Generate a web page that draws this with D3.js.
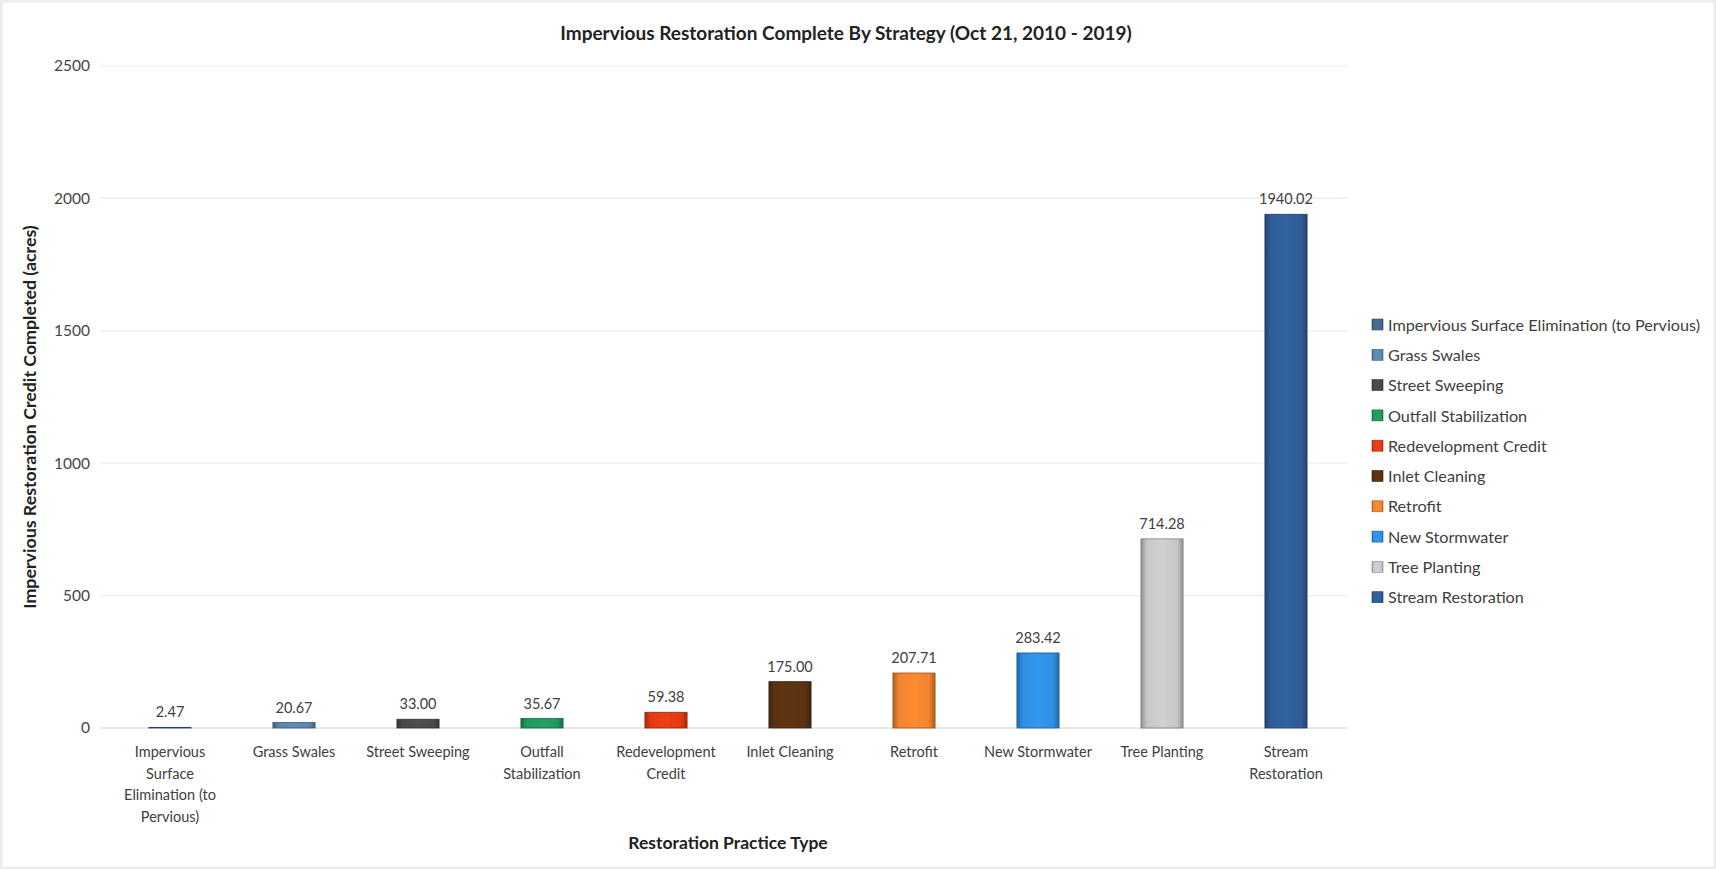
<!DOCTYPE html>
<html lang="en">
<head>
<meta charset="UTF-8">
<title>Impervious Restoration Complete By Strategy</title>
<style>
  html, body { margin: 0; padding: 0; background: #fff; }
  svg { display: block; font-family: Lato, "Open Sans", sans-serif; }
</style>
</head>
<body>
<svg id="chart" width="1716" height="869"></svg>
<script src="https://d3js.org/d3.v7.min.js"></script>
<script>
// data
var categories = ["Impervious Surface Elimination (to Pervious)", "Grass Swales", "Street Sweeping",
  "Outfall Stabilization", "Redevelopment Credit", "Inlet Cleaning", "Retrofit",
  "New Stormwater", "Tree Planting", "Stream Restoration"];
var values = [2.47, 20.67, 33.00, 35.67, 59.38, 175.00, 207.71, 283.42, 714.28, 1940.02];
var axisLabels = [["Impervious", "Surface", "Elimination (to", "Pervious)"], ["Grass Swales"], ["Street Sweeping"],
  ["Outfall", "Stabilization"], ["Redevelopment", "Credit"], ["Inlet Cleaning"], ["Retrofit"],
  ["New Stormwater"], ["Tree Planting"], ["Stream", "Restoration"]];
var colors = ["#46698a", "#5b86ad", "#4a4a4a", "#1e9a5c", "#e23a12", "#5b3212", "#f0842f",
  "#2f8fe3", "#c6c6c6", "#2f5e97"];
var yTicks = [0, 500, 1000, 1500, 2000, 2500];

var svg = d3.select("#chart"),
    width = +svg.attr("width"),
    height = +svg.attr("height");

var margin = {top: 66, left: 108, right: 1348, bottom: 728};

// faint frame like the pasted picture
svg.append("rect")
  .attr("x", 1).attr("y", 1).attr("width", width - 2).attr("height", height - 2)
  .attr("fill", "none").attr("stroke", "#ececec").attr("stroke-width", 3);

var x = d3.scaleBand()
  .domain(categories)
  .range([margin.left, margin.right])
  .paddingInner(0.66)
  .paddingOuter(0.33);

var y = d3.scaleLinear()
  .domain([0, 2500])
  .range([margin.bottom, margin.top]);

// gridlines
svg.append("g")
  .selectAll("line")
  .data(yTicks)
  .enter().append("line")
    .attr("x1", margin.left - 8)
    .attr("x2", margin.right)
    .attr("y1", function(d) { return y(d); })
    .attr("y2", function(d) { return y(d); })
    .attr("stroke", function(d) { return d === 0 ? "#cfcfcf" : "#ececec"; })
    .attr("stroke-width", 1.2);

// y axis (labels only)
var yAxis = svg.append("g")
  .attr("transform", "translate(" + (margin.left - 10) + ",0)")
  .call(d3.axisLeft(y).tickValues(yTicks).tickFormat(d3.format("d")).tickSize(0).tickPadding(8));
yAxis.select(".domain").remove();
yAxis.selectAll("text")
  .attr("fill", "#444")
  .style("font-size", "15.5px")
  .style("font-family", "Lato, sans-serif");

// bar gradients: darker edges, lighter middle
var defs = svg.append("defs");
colors.forEach(function(c, i) {
  var g = defs.append("linearGradient")
    .attr("id", "grad" + i)
    .attr("x1", "0%").attr("x2", "100%").attr("y1", "0%").attr("y2", "0%");
  var base = d3.color(c);
  g.append("stop").attr("offset", "0%").attr("stop-color", base.darker(0.9));
  g.append("stop").attr("offset", "14%").attr("stop-color", base);
  g.append("stop").attr("offset", "50%").attr("stop-color", base.brighter(0.15));
  g.append("stop").attr("offset", "86%").attr("stop-color", base);
  g.append("stop").attr("offset", "100%").attr("stop-color", base.darker(0.9));
});

// bars
svg.append("g")
  .selectAll("rect")
  .data(values)
  .enter().append("rect")
    .attr("x", function(d, i) { return x(categories[i]); })
    .attr("y", function(d) { return y(d); })
    .attr("width", x.bandwidth())
    .attr("height", function(d) { return y(0) - y(d); })
    .attr("fill", function(d, i) { return "url(#grad" + i + ")"; })
    .attr("stroke", function(d, i) { return d3.color(colors[i]).darker(1.2); })
    .attr("stroke-width", 0.8);

// value labels
svg.append("g")
  .selectAll("text")
  .data(values)
  .enter().append("text")
    .attr("x", function(d, i) { return x(categories[i]) + x.bandwidth() / 2; })
    .attr("y", function(d) { return y(d) - 10; })
    .attr("text-anchor", "middle")
    .attr("fill", "#404040")
    .style("font-size", "14.5px")
    .text(function(d) { return d.toFixed(2); });

// category labels
var catG = svg.append("g")
  .selectAll("text")
  .data(axisLabels)
  .enter().append("text")
    .attr("x", function(d, i) { return x(categories[i]) + x.bandwidth() / 2; })
    .attr("y", margin.bottom + 29)
    .attr("text-anchor", "middle")
    .attr("fill", "#404040")
    .style("font-size", "14.5px");
catG.selectAll("tspan")
  .data(function(d) { return d; })
  .enter().append("tspan")
    .attr("x", function() { return d3.select(this.parentNode).attr("x"); })
    .attr("dy", function(d, i) { return i === 0 ? 0 : 21.5; })
    .text(function(d) { return d; });

// title
svg.append("text")
  .attr("x", 846).attr("y", 40)
  .attr("text-anchor", "middle")
  .attr("fill", "#222")
  .style("font-size", "19px")
  .style("font-weight", "bold")
  .text("Impervious Restoration Complete By Strategy (Oct 21, 2010 - 2019)");

// axis titles
svg.append("text")
  .attr("x", 728).attr("y", 849)
  .attr("text-anchor", "middle")
  .attr("fill", "#222")
  .style("font-size", "17.5px")
  .style("font-weight", "bold")
  .text("Restoration Practice Type");

svg.append("text")
  .attr("transform", "translate(36," + 417 + ") rotate(-90)")
  .attr("text-anchor", "middle")
  .attr("fill", "#222")
  .style("font-size", "17.8px")
  .style("font-weight", "bold")
  .text("Impervious Restoration Credit Completed (acres)");

// legend
var legend = svg.append("g")
  .attr("transform", "translate(1372,325)")
  .selectAll("g")
  .data(categories)
  .enter().append("g")
    .attr("transform", function(d, i) { return "translate(0," + (i * 30.3) + ")"; });
legend.append("rect")
  .attr("x", 0).attr("y", -6)
  .attr("width", 11).attr("height", 11)
  .attr("fill", function(d, i) { return "url(#grad" + i + ")"; })
  .attr("stroke", function(d, i) { return d3.color(colors[i]).darker(1); })
  .attr("stroke-width", 0.6);
legend.append("text")
  .attr("x", 16).attr("y", 0)
  .attr("dy", "0.35em")
  .attr("fill", "#404040")
  .style("font-size", "16.2px")
  .text(function(d) { return d; });
</script>
</body>
</html>
